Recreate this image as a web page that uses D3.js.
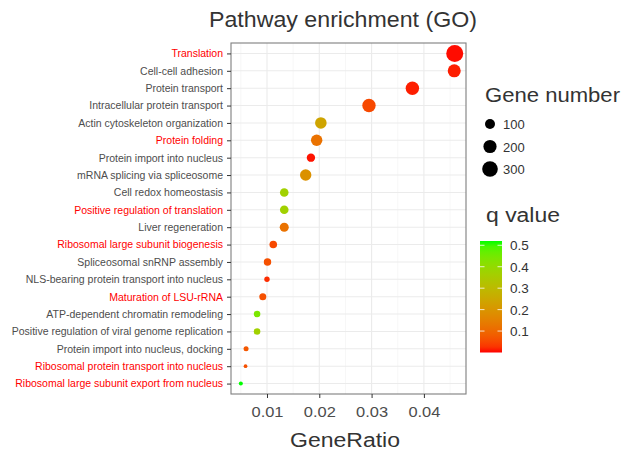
<!DOCTYPE html>
<html><head><meta charset="utf-8">
<script src="https://cdn.jsdelivr.net/npm/d3@7"></script>
<style>body{margin:0;background:#fff}svg{display:block;font-family:"Liberation Sans",Arial,sans-serif}</style>
</head><body><svg id="c" width="627" height="453"></svg>
<script>
const categories = ["Translation","Cell-cell adhesion","Protein transport","Intracellular protein transport","Actin cytoskeleton organization","Protein folding","Protein import into nucleus","mRNA splicing via spliceosome","Cell redox homeostasis","Positive regulation of translation","Liver regeneration","Ribosomal large subunit biogenesis","Spliceosomal snRNP assembly","NLS-bearing protein transport into nucleus","Maturation of LSU-rRNA","ATP-dependent chromatin remodeling","Positive regulation of viral genome replication","Protein import into nucleus, docking","Ribosomal protein transport into nucleus","Ribosomal large subunit export from nucleus"];
const highlighted = ["Translation","Protein folding","Positive regulation of translation","Ribosomal large subunit biogenesis","Maturation of LSU-rRNA","Ribosomal protein transport into nucleus","Ribosomal large subunit export from nucleus"];
const geneRatio = [0.0459,0.0458,0.0378,0.0295,0.0203,0.0195,0.0184,0.0174,0.0133,0.0133,0.0133,0.0112,0.0101,0.0100,0.0092,0.0081,0.0081,0.0060,0.0059,0.0050];
const geneCount = [367,194,209,209,146,140,62,140,67,67,76,47,44,16,37,31,31,12,3,5];
const qValue = [0.003,0.01,0.01,0.05,0.24,0.12,0.005,0.19,0.37,0.37,0.12,0.05,0.06,0.02,0.06,0.44,0.37,0.07,0.06,0.52];
const xTicks = [0.01,0.02,0.03,0.04];
const sizeLegend = [100,200,300];
const colorTicks = [0.1,0.2,0.3,0.4,0.5];

const svg = d3.select("#c");
const L=231,R=466,T=43,B=394;
const x = d3.scaleLinear().domain([0.00312,0.04805]).range([L,R]);
const y = d3.scalePoint().domain(categories).range([T,B]).padding(0.6);
const rs = d3.scaleSqrt().domain([100,300]).range([5,7.8]);
const r = n => Math.max(0.5, rs(n));
const col = d3.scaleLinear().domain([0,0.52]).range(["#ff0000","#00ff00"]).interpolate(d3.interpolateLab).clamp(true);

// grid
const g = svg.append("g");
const minor=[0.005,0.015,0.025,0.035,0.045];
g.selectAll(".mn").data(minor).join("line").attr("x1",d=>x(d)).attr("x2",d=>x(d)).attr("y1",T).attr("y2",B).attr("stroke","#f2f2f2").attr("stroke-width",0.6);
g.selectAll(".mj").data(xTicks).join("line").attr("x1",d=>x(d)).attr("x2",d=>x(d)).attr("y1",T).attr("y2",B).attr("stroke","#ebebeb").attr("stroke-width",1.1);
g.selectAll(".hy").data(categories).join("line").attr("x1",L).attr("x2",R).attr("y1",d=>y(d)).attr("y2",d=>y(d)).attr("stroke","#ebebeb").attr("stroke-width",1.1);

// points
const data = categories.map((c,i)=>({c,gr:geneRatio[i],n:geneCount[i],q:qValue[i]}));
svg.append("g").selectAll("circle").data(data).join("circle")
  .attr("cx",d=>x(d.gr)).attr("cy",d=>y(d.c)).attr("r",d=>r(d.n)).attr("fill",d=>col(d.q));

// border
svg.append("rect").attr("x",L).attr("y",T).attr("width",R-L).attr("height",B-T).attr("fill","none").attr("stroke","#7f7f7f").attr("stroke-width",1.1);

// y axis
const ya = svg.append("g").attr("transform",`translate(${L},0)`).call(d3.axisLeft(y).tickSize(4).tickPadding(4));
ya.select(".domain").remove();
ya.selectAll(".tick line").attr("stroke","#333");
ya.selectAll(".tick text").attr("font-size","10.5px").attr("fill",d=>highlighted.includes(d)?"#ff0000":"#4d4d4d").attr("font-family","Liberation Sans, Arial, sans-serif");

// x axis
const xa = svg.append("g").attr("transform",`translate(0,${B})`).call(d3.axisBottom(x).tickValues(xTicks).tickFormat(d3.format(".2f")).tickSize(4).tickPadding(9));
xa.select(".domain").remove();
xa.selectAll(".tick line").attr("stroke","#333");
xa.selectAll(".tick text").attr("font-size","14px").attr("fill","#4d4d4d").attr("font-family","Liberation Sans, Arial, sans-serif")
  .attr("textLength",32).attr("lengthAdjust","spacingAndGlyphs");

// titles
svg.append("text").attr("x",343).attr("y",27).attr("text-anchor","middle").attr("font-size","22.5px").attr("fill","#333")
  .attr("textLength",268).attr("lengthAdjust","spacingAndGlyphs").text("Pathway enrichment (GO)");
svg.append("text").attr("x",345).attr("y",447).attr("text-anchor","middle").attr("font-size","20px").attr("fill","#333")
  .attr("textLength",110).attr("lengthAdjust","spacingAndGlyphs").text("GeneRatio");

// size legend
svg.append("text").attr("x",485).attr("y",102).attr("font-size","19.5px").attr("fill","#333")
  .attr("textLength",135).attr("lengthAdjust","spacingAndGlyphs").text("Gene number");
const sl = svg.append("g").selectAll("g").data(sizeLegend).join("g").attr("transform",(d,i)=>`translate(490,${124+i*22.5})`);
sl.append("circle").attr("r",d=>r(d)).attr("fill","#000");
sl.append("text").attr("x",13).attr("y",5).attr("font-size","13px").attr("fill","#333").text(d=>d);

// color legend
svg.append("text").attr("x",486).attr("y",222).attr("font-size","19.5px").attr("fill","#333")
  .attr("textLength",74).attr("lengthAdjust","spacingAndGlyphs").text("q value");
const defs = svg.append("defs");
const lg = defs.append("linearGradient").attr("id","qg").attr("x1",0).attr("x2",0).attr("y1",1).attr("y2",0);
d3.range(0,1.0001,0.05).forEach(t=>lg.append("stop").attr("offset",t).attr("stop-color",col(t*0.52)));
const cb = d3.scaleLinear().domain([0,0.52]).range([352.5,241]);
svg.append("rect").attr("x",480).attr("y",241).attr("width",22).attr("height",111.5).attr("fill","url(#qg)");
const ct = svg.append("g").selectAll("g").data(colorTicks).join("g").attr("transform",d=>`translate(0,${cb(d)})`);
ct.append("line").attr("x1",480).attr("x2",484.5).attr("stroke","#fff").attr("stroke-width",0.8);
ct.append("line").attr("x1",497.5).attr("x2",502).attr("stroke","#fff").attr("stroke-width",0.8);
ct.append("text").attr("x",510).attr("y",5).attr("font-size","13.5px").attr("fill","#333").text(d=>d);
</script></body></html>
